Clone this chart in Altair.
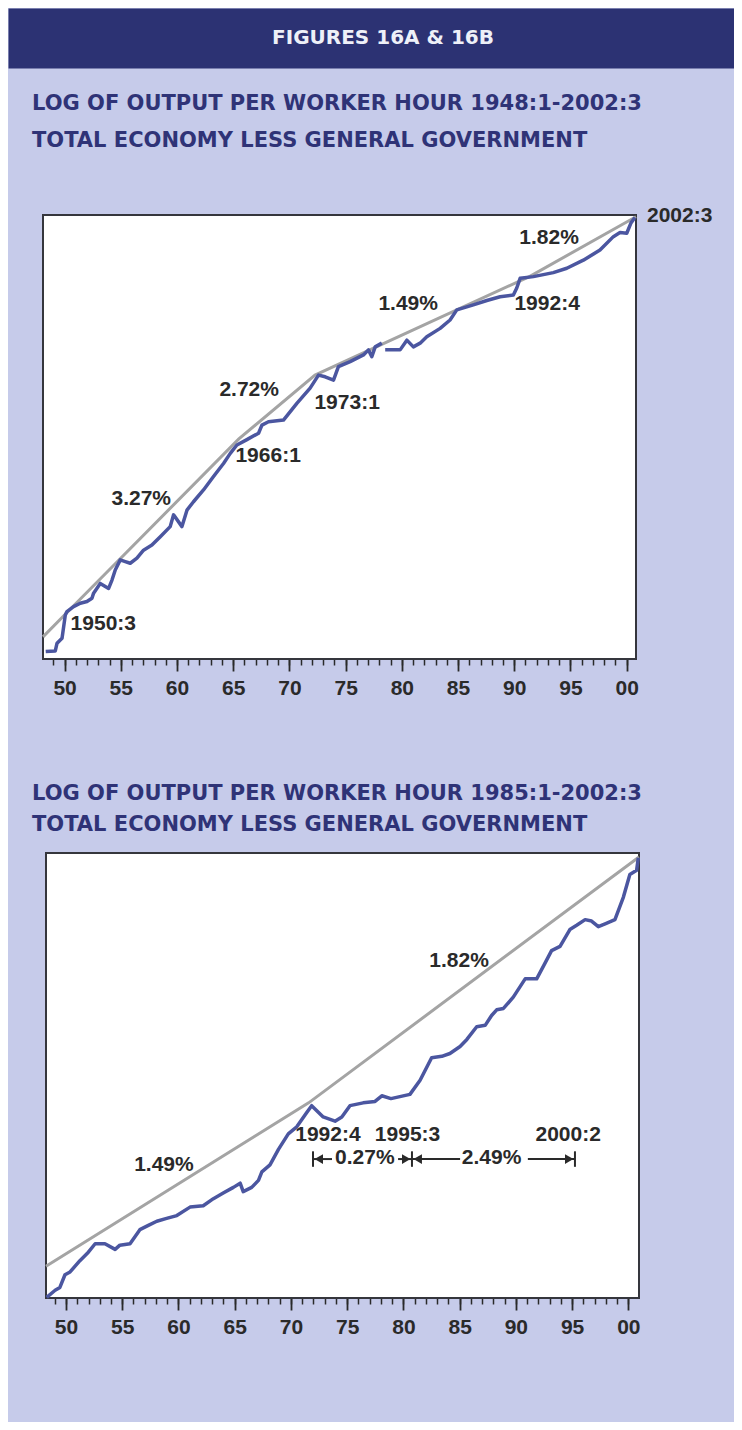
import altair as alt
import pandas as pd

# ---------------- text ----------------
header_text = "FIGURES 16A & 16B"
title_a = ["LOG OF OUTPUT PER WORKER HOUR 1948:1-2002:3", "TOTAL ECONOMY LESS GENERAL GOVERNMENT"]
title_b = ["LOG OF OUTPUT PER WORKER HOUR 1985:1-2002:3", "TOTAL ECONOMY LESS GENERAL GOVERNMENT"]

# ---------------- Figure 16A data (log output per hour) ----------------
a_year_1 = [1948.25, 1949.13, 1949.29, 1949.75, 1950.05, 1950.20, 1950.81, 1951.43, 1952.04, 1952.50,
            1952.65, 1953.26, 1954.03, 1954.34, 1954.64, 1955.10, 1955.56, 1956.02, 1956.63, 1957.24,
            1958.01, 1958.78, 1959.69, 1960.00, 1960.77, 1961.23, 1961.83, 1962.75, 1963.67, 1964.59,
            1965.21, 1965.82, 1966.74, 1967.81, 1968.12, 1968.72, 1970.10, 1971.33, 1972.55, 1973.32,
            1973.93, 1974.70, 1975.15, 1976.23, 1977.45, 1977.91, 1978.22, 1978.53, 1979.14]
a_val_1 = [3.462, 3.464, 3.487, 3.502, 3.571, 3.581, 3.596, 3.606, 3.611, 3.621,
           3.636, 3.665, 3.650, 3.675, 3.705, 3.735, 3.730, 3.725, 3.740, 3.764,
           3.779, 3.804, 3.834, 3.869, 3.834, 3.883, 3.908, 3.943, 3.983, 4.022,
           4.052, 4.077, 4.093, 4.112, 4.136, 4.146, 4.151, 4.201, 4.246, 4.285,
           4.280, 4.270, 4.310, 4.325, 4.345, 4.360, 4.340, 4.369, 4.380]
a_year_2 = [1979.45, 1980.82, 1981.44, 1982.04, 1982.66, 1983.27, 1984.50, 1985.41, 1986.03, 1987.55,
            1988.79, 1990.01, 1991.23, 1991.54, 1991.85, 1993.07, 1994.90, 1996.14, 1997.66, 1999.19,
            2000.42, 2001.03, 2001.65, 2002.04, 2002.40]
a_val_2 = [4.360, 4.360, 4.389, 4.369, 4.380, 4.399, 4.424, 4.449, 4.479, 4.494,
           4.507, 4.518, 4.523, 4.544, 4.573, 4.578, 4.590, 4.603, 4.627, 4.657,
           4.697, 4.709, 4.707, 4.738, 4.754]
a_trend_year = [1948.0, 1950.5, 1966.0, 1973.0, 1992.75, 2002.5]
a_trend_val = [3.506, 3.588, 4.095, 4.285, 4.579, 4.756]
a_note_text = ["1950:3", "3.27%", "1966:1", "2.72%", "1973:1", "1.49%", "1992:4", "1.82%"]
a_note_year = [1953.54, 1957.03, 1968.69, 1966.95, 1975.95, 1981.56, 1994.33, 1994.51]
a_note_val = [3.543, 3.915, 4.044, 4.241, 4.202, 4.497, 4.498, 4.694]
a_end_text = ["2002:3"]
a_end_year = [2002.5]
a_end_val = [4.757]

# ---------------- Figure 16B data ----------------
b_year = [1985.02, 1985.27, 1985.41, 1985.56, 1985.71, 1986.00, 1986.25, 1986.45, 1986.74, 1987.04,
          1987.18, 1987.48, 1987.77, 1988.02, 1988.27, 1988.56, 1988.86, 1989.25, 1989.64, 1989.94,
          1990.23, 1990.53, 1990.73, 1990.82, 1991.07, 1991.27, 1991.37, 1991.61, 1991.86, 1992.15,
          1992.40, 1992.69, 1992.84, 1993.18, 1993.53, 1993.73, 1993.97, 1994.36, 1994.71, 1994.91,
          1995.18, 1995.74, 1996.04, 1996.38, 1996.68, 1996.92, 1997.22, 1997.42, 1997.71, 1997.96,
          1998.15, 1998.30, 1998.50, 1998.79, 1999.14, 1999.48, 1999.68, 1999.92, 2000.17, 2000.46,
          2000.66, 2000.91, 2001.10, 2001.30, 2001.50, 2001.79, 2002.04, 2002.23, 2002.43, 2002.48]
b_val = [4.443, 4.448, 4.450, 4.459, 4.461, 4.469, 4.475, 4.481, 4.481, 4.477,
         4.480, 4.481, 4.491, 4.494, 4.497, 4.499, 4.501, 4.507, 4.508, 4.513,
         4.517, 4.521, 4.524, 4.518, 4.521, 4.526, 4.532, 4.537, 4.548, 4.559,
         4.564, 4.574, 4.579, 4.571, 4.568, 4.571, 4.579, 4.581, 4.582, 4.586,
         4.584, 4.587, 4.597, 4.613, 4.614, 4.616, 4.621, 4.626, 4.635, 4.636,
         4.643, 4.647, 4.648, 4.656, 4.669, 4.669, 4.678, 4.689, 4.692, 4.704,
         4.707, 4.711, 4.710, 4.706, 4.708, 4.711, 4.727, 4.743, 4.746, 4.755]
b_trend_year = [1985.0, 1992.75, 2002.5]
b_trend_val = [4.465, 4.581, 4.7555]
b_note_text = ["1.49%", "1.82%", "1992:4", "1995:3", "2000:2", "0.27%", "2.49%"]
b_note_year = [1988.48, 1997.19, 1993.32, 1995.67, 2000.41, 1994.41, 1998.15]
b_note_val = [4.537, 4.682, 4.558, 4.558, 4.558, 4.5416, 4.5416]
b_bar_year = [1992.88, 1995.80, 2000.61]
b_bar_lo = [4.5356, 4.5356, 4.5356]
b_bar_hi = [4.5466, 4.5466, 4.5466]
b_arrow_from = [1992.88, 1995.39, 1995.80, 1999.22]
b_arrow_to = [1993.44, 1995.80, 1997.22, 2000.61]
b_arrow_val = [4.5411, 4.5411, 4.5411, 4.5411]
b_head_year = [1993.05, 1995.63, 1995.97, 2000.44]
b_head_val = [4.5411, 4.5411, 4.5411, 4.5411]
b_head_dir = ["triangle-left", "triangle-right", "triangle-left", "triangle-right"]

# ---------------- axis (as printed on both panels) ----------------
tick_years = list(range(1949, 2001))
major_years = list(range(1950, 2001, 5))
major_labels = ["50", "55", "60", "65", "70", "75", "80", "85", "90", "95", "00"]
axis_dom_a = [1948.08, 2000.83]
axis_dom_b = [1948.22, 2000.95]

# ---------------- style ----------------
BG = "#c6cbea"
NAVY = "#2c3273"
TITLE_C = "#2f3377"
BLUE = "#4b56a0"
GRAY = "#a4a4a4"
INK = "#2a2a2a"
FRAME = "#35363d"
NOTE_FONT = "Liberation Sans"
TITLE_FONT = "DejaVu Sans"
VIEW_W = 726

label_expr = "".join(f"datum.value == {y} ? '{l}' : " for y, l in zip(major_years, major_labels)) + "''"
NOVIEW = alt.ViewBackground(fill="transparent", strokeOpacity=0)


def panel(lines_df, trend_df, notes_df, x_dom, y_dom, axis_dom, x_range, view_h, top, extra=None):
    xs = alt.Scale(domain=x_dom, range=x_range, nice=False, zero=False)
    ys = alt.Scale(domain=y_dom, range=[view_h, top], nice=False, zero=False)
    X = alt.X("year:Q", scale=xs, axis=None)
    Y = alt.Y("val:Q", scale=ys, axis=None)

    frame_df = pd.DataFrame({"year": [x_dom[0]], "year2": [x_dom[1]],
                             "val": [y_dom[0]], "val2": [y_dom[1]]})
    frame = alt.Chart(frame_df).mark_rect(fill="white", stroke=FRAME, strokeWidth=2).encode(
        x=X, x2="year2:Q", y=Y, y2="val2:Q")
    trend = alt.Chart(trend_df).mark_line(color=GRAY, strokeWidth=3).encode(x=X, y=Y)
    line = alt.Chart(lines_df).mark_line(color=BLUE, strokeWidth=3.5, strokeJoin="round").encode(
        x=X, y=Y, detail="seg:N")
    notes = alt.Chart(notes_df).mark_text(font=NOTE_FONT, fontSize=21, fontWeight="bold", color=INK).encode(
        x=X, y=Y, text="label:N")

    axs = alt.Scale(domain=axis_dom, range=x_range, nice=False, zero=False)
    minor_df = pd.DataFrame({"year": tick_years, "val": [y_dom[0]] * len(tick_years)})
    major_df = pd.DataFrame({"year": major_years, "val": [y_dom[0]] * len(major_years)})
    minor = alt.Chart(minor_df).mark_point(opacity=0).encode(
        x=alt.X("year:Q", scale=axs, axis=alt.Axis(
            orient="bottom", values=tick_years, labels=False, tickSize=6, tickWidth=1.5,
            tickColor=INK, domain=False, grid=False, title=None)),
        y=Y)
    major = alt.Chart(major_df).mark_point(opacity=0).encode(
        x=alt.X("year:Q", scale=axs, axis=alt.Axis(
            orient="bottom", values=major_years, labelExpr=label_expr, tickSize=12, tickWidth=1.8,
            tickColor=INK, domain=False, grid=False, title=None, labelFont=NOTE_FONT,
            labelFontSize=21, labelFontWeight="bold", labelColor=INK, labelPadding=6,
            labelFlush=False, labelOverlap=False, minExtent=42, maxExtent=42)),
        y=Y)

    layers = [frame, trend, line, notes]
    if extra:
        layers += extra(X, Y)
    layers += [minor, major]
    return alt.layer(*layers).resolve_scale(x="independent").properties(
        width=VIEW_W, height=view_h, view=NOVIEW)


# ----- panel A -----
a_lines = pd.DataFrame({
    "year": a_year_1 + a_year_2,
    "val": a_val_1 + a_val_2,
    "seg": ["a"] * len(a_year_1) + ["b"] * len(a_year_2),
})
a_trend = pd.DataFrame({"year": a_trend_year, "val": a_trend_val})
a_notes = pd.DataFrame({"year": a_note_year, "val": a_note_val, "label": a_note_text})
a_end = pd.DataFrame({"year": a_end_year, "val": a_end_val, "label": a_end_text})


def extra_a(X, Y):
    return [alt.Chart(a_end).mark_text(font=NOTE_FONT, fontSize=21, fontWeight="bold", color=INK,
                                       align="left", dx=11).encode(x=X, y=Y, text="label:N")]


# plot area A: 593 x 444, 10 px head-room for the "2002:3" label
chart_a = panel(a_lines, a_trend, a_notes, [1948.0, 2002.5], [3.44, 4.7614], axis_dom_a,
                [35, 628], 454, 10, extra_a)

# ----- panel B -----
b_lines = pd.DataFrame({"year": b_year, "val": b_val, "seg": ["a"] * len(b_year)})
b_trend = pd.DataFrame({"year": b_trend_year, "val": b_trend_val})
b_notes = pd.DataFrame({"year": b_note_year, "val": b_note_val, "label": b_note_text})
b_bars = pd.DataFrame({"year": b_bar_year, "val": b_bar_lo, "val2": b_bar_hi})
b_arrows = pd.DataFrame({"year": b_arrow_from, "year2": b_arrow_to, "val": b_arrow_val})
b_heads = pd.DataFrame({"year": b_head_year, "val": b_head_val, "dir": b_head_dir})


def extra_b(X, Y):
    bars = alt.Chart(b_bars).mark_rule(color=INK, strokeWidth=2).encode(x=X, y=Y, y2="val2:Q")
    arrows = alt.Chart(b_arrows).mark_rule(color=INK, strokeWidth=2).encode(x=X, x2="year2:Q", y=Y)
    heads = alt.Chart(b_heads).mark_point(filled=True, color=INK, size=95, opacity=1).encode(
        x=X, y=Y,
        shape=alt.Shape("dir:N", scale=alt.Scale(domain=["triangle-left", "triangle-right"],
                                                 range=["triangle-left", "triangle-right"]),
                        legend=None))
    return [bars, arrows, heads]


chart_b = panel(b_lines, b_trend, b_notes, [1985.0, 2002.5], [4.4425, 4.7583], axis_dom_b,
                [38, 631], 449, 4, extra_b)

# ----- header & titles -----
hdr = alt.Chart(pd.DataFrame({"t": [header_text]})).mark_text(
    font=TITLE_FONT, fontSize=20, fontWeight="bold", color="#eef0f8", baseline="middle", align="center"
).encode(text="t:N", x=alt.value(375), y=alt.value(30)).properties(
    width=VIEW_W, height=60, view=alt.ViewBackground(fill=NAVY, strokeOpacity=0))


def title_view(lines, y_first, lh, h):
    return alt.Chart(pd.DataFrame({"k": [0]})).mark_text(
        font=TITLE_FONT, fontSize=21, fontWeight="bold", color=TITLE_C, align="left",
        baseline="middle", lineHeight=lh
    ).encode(text=alt.value(lines), x=alt.value(24), y=alt.value(y_first)).properties(
        width=VIEW_W, height=h, view=NOVIEW)


t_a = title_view(title_a, 36, 37, 137)
t_b = title_view(title_b, 93, 31, 148)

chart = alt.vconcat(hdr, t_a, chart_a, t_b, chart_b, spacing=0).properties(
    padding={"left": 0, "top": 0, "right": 0, "bottom": 82}
).configure(background=BG).configure_view(strokeOpacity=0)

chart.save("out.html", embed_options={"renderer": "svg", "actions": False})
